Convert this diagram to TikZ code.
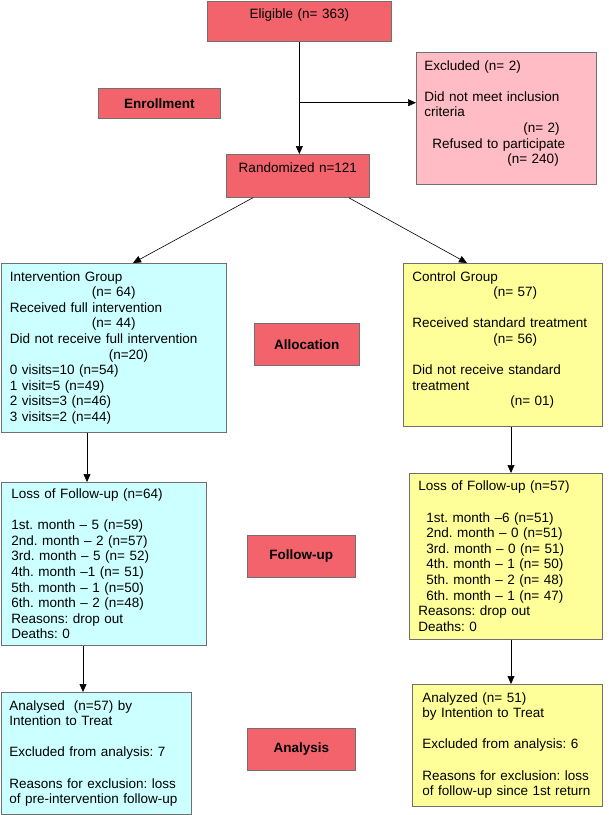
\documentclass[tikz,border=0pt]{standalone}
\usepackage{fontspec}
\setmainfont{Liberation Sans}
\frenchspacing
\usetikzlibrary{arrows.meta,calc}
\definecolor{stagered}{RGB}{242,99,107}
\definecolor{exclpink}{RGB}{255,188,196}
\definecolor{intcyan}{RGB}{204,255,255}
\definecolor{ctrlyellow}{RGB}{255,255,153}
\definecolor{edgegray}{RGB}{112,112,112}
\tikzset{
	flowbox/.style = {draw=edgegray, line width=0.7pt, anchor=north west, inner sep=0pt, font=\fontsize{13.5}{15.6}\selectfont},
	stage/.style = {flowbox, fill=stagered, font=\fontsize{13.5}{15.6}\selectfont\bfseries, align=center},
	mainstep/.style = {flowbox, fill=stagered, align=center, text height=18pt},
	excl/.style = {flowbox, fill=exclpink, align=left, inner xsep=8pt},
	interv/.style = {flowbox, fill=intcyan, align=left, inner xsep=8.5pt},
	ctrl/.style = {flowbox, fill=ctrlyellow, align=left, inner xsep=9pt},
	arr/.style = {draw=black, line width=0.6pt, -{Triangle[length=8pt,width=7pt]}}
}

\begin{document}
\begin{tikzpicture}[x=1pt, y=-1pt]
		\useasboundingbox (0,0) rectangle (609,815);
		\node [mainstep, minimum width=184pt, text width=184pt, text depth=22.5pt] (elig) at (207,0.5) {Eligible (n= 363)};
		\node [excl, minimum width=180pt, minimum height=132pt, text width=164pt] (excluded) at (416,52)
			{Excluded (n= 2)\\[15.6pt]
			Did not meet inclusion\\
			criteria\\
			\hspace*{99pt}(n= 2)\\
			\hspace*{8pt}Refused to participate\\
			\hspace*{83pt}(n= 240)\\[-3pt]\mbox{}};
		\node [stage, minimum width=122pt, minimum height=30pt] (enrol) at (98,88) {Enrollment};
		\node [mainstep, minimum width=143pt, text width=143pt, text depth=25pt] (rand) at (226,154) {Randomized n=121};
		\node [interv, minimum width=225pt, minimum height=169pt, text width=208pt] (interv) at (1,263)
			{Intervention Group\\
			\hspace*{82pt}(n= 64)\\
			Received full intervention\\
			\hspace*{82pt}(n= 44)\\
			Did not receive full intervention\\
			\hspace*{99pt}(n=20)\\
			0 visits=10 (n=54)\\
			1 visit=5 (n=49)\\
			2 visits=3 (n=46)\\
			3 visits=2 (n=44)};
		\node [ctrl, minimum width=199pt, minimum height=163pt, text width=181pt] (ctrl) at (403,263)
			{Control Group\\
			\hspace*{81pt}(n= 57)\\[15.6pt]
			Received standard treatment\\
			\hspace*{81pt}(n= 56)\\[15.6pt]
			Did not receive standard\\
			treatment\\
			\hspace*{98pt}(n= 01)\\[-3pt]\mbox{}};
		\node [stage, minimum width=105pt, minimum height=42pt] (alloc) at (254,323) {Allocation};
		\node [interv, inner xsep=10pt, minimum width=205pt, minimum height=163pt, text width=185pt] (lossint) at (1,482)
			{Loss of Follow-up (n=64)\\[15.6pt]
			1st. month – 5 (n=59)\\
			2nd. month – 2 (n=57)\\
			3rd. month – 5 (n= 52)\\
			4th. month –1 (n= 51)\\
			5th. month – 1 (n=50)\\
			6th. month – 2 (n=48)\\
			Reasons: drop out\\
			Deaths: 0};
		\node [stage, minimum width=108pt, minimum height=42pt] (follow) at (247,535) {Follow-up};
		\node [ctrl, minimum width=193pt, minimum height=166pt, text width=175pt] (lossctrl) at (409,473)
			{Loss of Follow-up (n=57)\\[15.6pt]
			\hspace*{8pt}1st. month –6 (n=51)\\
			\hspace*{8pt}2nd. month – 0 (n=51)\\
			\hspace*{8pt}3rd. month – 0 (n= 51)\\
			\hspace*{8pt}4th. month – 1 (n= 50)\\
			\hspace*{8pt}5th. month – 2 (n= 48)\\
			\hspace*{8pt}6th. month – 1 (n= 47)\\
			Reasons: drop out\\
			Deaths: 0};
		\node [interv, inner xsep=8pt, minimum width=190pt, minimum height=122pt, text width=174pt] (anaint) at (1,692)
			{Analysed\ \ (n=57) by\\
			Intention to Treat\\[15.6pt]
			Excluded from analysis: 7\\[15.6pt]
			Reasons for exclusion: loss\\
			of pre-intervention follow-up};
		\node [stage, minimum width=108pt, minimum height=42pt] (analysis) at (247,728) {Analysis};
		\node [ctrl, inner xsep=10pt, minimum width=190pt, minimum height=122pt, text width=170pt] (anactrl) at (412,684)
			{Analyzed (n= 51)\\
			by Intention to Treat\\[15.6pt]
			Excluded from analysis: 6\\[15.6pt]
			Reasons for exclusion: loss\\
			of follow-up since 1st return};
		\draw [arr] (elig.south) -- (elig.south |- rand.north);
		\draw [arr] ($(elig.south)+(0,61)$) coordinate (split) -- (split -| excluded.west);
		\draw [arr] ($(rand.south west)+(27,0)$) -- ($(interv.north west)+(132,0)$);
		\draw [arr] ($(rand.south east)+(-21,0)$) -- ($(ctrl.north west)+(64,0)$);
		\draw [arr] ($(interv.south west)+(86,0)$) coordinate (c1) -- (c1 |- lossint.north);
		\draw [arr] ($(ctrl.south west)+(108,0)$) coordinate (c2) -- (c2 |- lossctrl.north);
		\draw [arr] ($(lossint.south west)+(82,0)$) coordinate (c3) -- (c3 |- anaint.north);
		\draw [arr] ($(lossctrl.south west)+(102,0)$) coordinate (c4) -- (c4 |- anactrl.north);
\end{tikzpicture}
\end{document}
